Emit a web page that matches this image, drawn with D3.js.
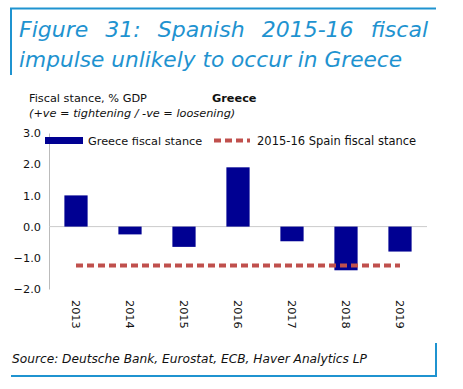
<!DOCTYPE html>
<html>
<head>
<meta charset="utf-8">
<script src="https://cdn.jsdelivr.net/npm/d3@7"></script>
<style>
  body { margin: 0; background: #fff; }
  text { font-family: "DejaVu Sans", sans-serif; }
</style>
</head>
<body>
<svg id="chart"></svg>
<script>
var years = ['2013', '2014', '2015', '2016', '2017', '2018', '2019'];
var greeceStance = [1.0, -0.25, -0.65, 1.9, -0.47, -1.4, -0.8];
var spainStance = [-1.25, -1.25, -1.25, -1.25, -1.25, -1.25, -1.25];
var yTicks = [3, 2, 1, 0, -1, -2];

var svgWidth = 463,
    svgHeight = 389,
    blue = '#1f93d0',
    barColor = '#000092',
    lineColor = '#c0504d',
    fs = 11.3;

var svg = d3.select('#chart')
    .attr('width', svgWidth)
    .attr('height', svgHeight)

// frame lines
svg.append('line').attr('x1', 10).attr('x2', 436).attr('y1', 8.5).attr('y2', 8.5)
  .attr('stroke', blue).attr('stroke-width', 2)
svg.append('line').attr('x1', 11).attr('x2', 11).attr('y1', 8).attr('y2', 75)
  .attr('stroke', blue).attr('stroke-width', 2)
svg.append('line').attr('x1', 11).attr('x2', 437).attr('y1', 376).attr('y2', 376)
  .attr('stroke', blue).attr('stroke-width', 2)
svg.append('line').attr('x1', 436).attr('x2', 436).attr('y1', 343).attr('y2', 377)
  .attr('stroke', blue).attr('stroke-width', 2)

// justified title line
function justify(words, x0, x1, y) {
  var nodes = words.map(function(w) {
    return svg.append('text').attr('y', y).attr('fill', blue)
      .attr('font-size', 22).attr('font-style', 'italic').text(w)
  })
  var widths = nodes.map(function(n) { return n.node().getComputedTextLength() })
  var gap = (x1 - x0 - d3.sum(widths)) / (words.length - 1)
  var x = x0
  nodes.forEach(function(n, i) { n.attr('x', x); x += widths[i] + gap })
}
justify(['Figure', '31:', 'Spanish', '2015-16', 'fiscal'], 19, 428, 37)
svg.append('text').attr('x', 19).attr('y', 67).attr('fill', blue)
  .attr('font-size', 21.7).attr('font-style', 'italic')
  .text('impulse unlikely to occur in Greece')

svg.append('text').attr('x', 29).attr('y', 102).attr('font-size', fs).attr('fill', '#111')
  .text('Fiscal stance, % GDP')
svg.append('text').attr('x', 212).attr('y', 102).attr('font-size', fs).attr('font-weight', 'bold').attr('fill', '#111')
  .text('Greece')
svg.append('text').attr('x', 29).attr('y', 117).attr('font-size', fs).attr('font-style', 'italic').attr('fill', '#111')
  .text('(+ve = tightening / -ve = loosening)')

var margin = {left: 49, right: 36, top: 133, bottom: 100}

var x = d3.scaleBand()
    .domain(years)
    .range([margin.left, svgWidth - margin.right])
    .paddingInner(0.57)
    .paddingOuter(0.285)

var y = d3.scaleLinear()
    .domain([-2, 3])
    .range([289, 133])

// y axis
var yAxis = svg.append('g')
    .attr('transform', 'translate(' + margin.left + ',0)')
    .call(d3.axisLeft(y).tickValues(yTicks).tickFormat(d3.format('.1f')).tickSize(0).tickPadding(8))
yAxis.select('.domain').attr('stroke', '#bbb')
yAxis.selectAll('text').attr('font-size', fs).attr('fill', '#111')
  .attr('font-family', '"DejaVu Sans", sans-serif')

// zero line
svg.append('line')
  .attr('x1', margin.left).attr('x2', svgWidth - margin.right)
  .attr('y1', y(0)).attr('y2', y(0))
  .attr('stroke', '#ccc')

// bars
svg.selectAll('rect.bar')
  .data(greeceStance)
  .enter()
  .append('rect')
  .attr('class', 'bar')
  .attr('x', function(d, i) { return x(years[i]) })
  .attr('width', x.bandwidth())
  .attr('y', function(d) { return y(Math.max(0, d)) })
  .attr('height', function(d) { return Math.abs(y(d) - y(0)) })
  .attr('fill', barColor)

// spain line
var line = d3.line()
  .x(function(d, i) { return x(years[i]) + x.bandwidth() / 2 })
  .y(function(d) { return y(d) })
svg.append('path')
  .datum(spainStance)
  .attr('d', line)
  .attr('fill', 'none')
  .attr('stroke', lineColor)
  .attr('stroke-width', 4)
  .attr('stroke-dasharray', '7 4')

// x labels, rotated
svg.selectAll('text.year')
  .data(years)
  .enter()
  .append('text')
  .attr('class', 'year')
  .attr('transform', function(d) {
    return 'translate(' + (x(d) + x.bandwidth() / 2 - 4) + ',300) rotate(90)'
  })
  .attr('font-size', fs)
  .attr('fill', '#111')
  .text(function(d) { return d })

// legend
svg.append('rect').attr('x', 45).attr('y', 137).attr('width', 38).attr('height', 7).attr('fill', barColor)
svg.append('text').attr('x', 88).attr('y', 144.5).attr('font-size', fs).attr('fill', '#111')
  .text('Greece fiscal stance')
svg.append('line').attr('x1', 214).attr('x2', 250).attr('y1', 140.5).attr('y2', 140.5)
  .attr('stroke', lineColor).attr('stroke-width', 4).attr('stroke-dasharray', '7 4')
svg.append('text').attr('x', 257).attr('y', 144.5).attr('font-size', 11.5).attr('fill', '#111')
  .text('2015-16 Spain fiscal stance')

// source
svg.append('text').attr('x', 12).attr('y', 363).attr('font-size', 12.2).attr('font-style', 'italic').attr('fill', '#111')
  .text('Source: Deutsche Bank, Eurostat, ECB, Haver Analytics LP')
</script>
</body>
</html>
